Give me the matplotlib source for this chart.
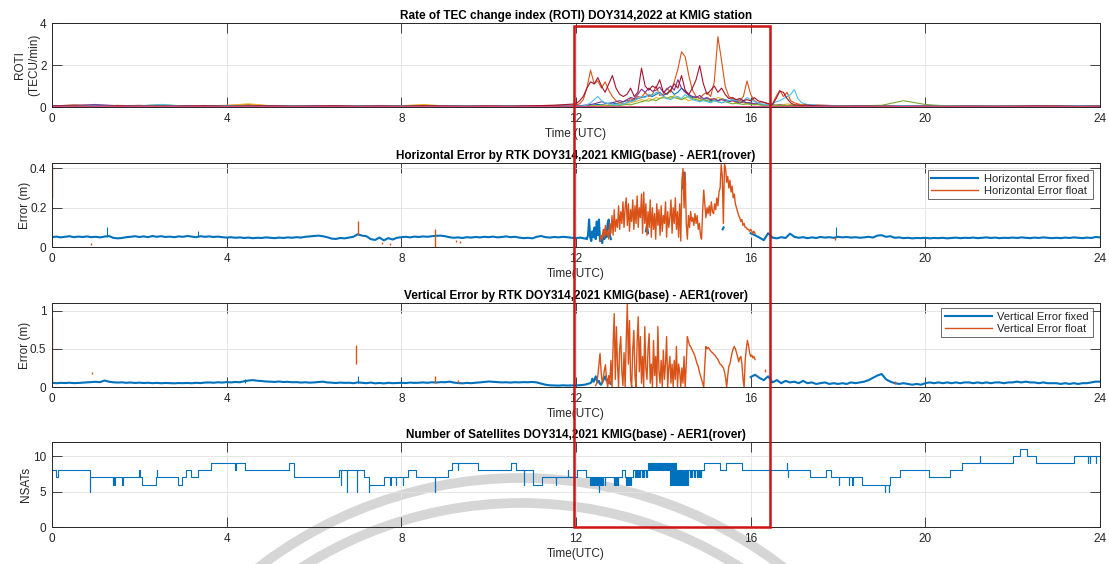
import numpy as np
import matplotlib
matplotlib.use("Agg")
import matplotlib.pyplot as plt
from matplotlib.patches import Rectangle, Arc
from matplotlib.transforms import Affine2D

plt.rcParams['font.family'] = ['Liberation Sans', 'DejaVu Sans']

nan = np.nan

# ---------------- ROTI (TECU/min), one line per satellite ----------------
roti_t_am = np.arange(0, 12, 0.5)               # 0 .. 11.5
roti_t_storm = 12 + np.arange(67) / 12.0        # 5-min epochs 12.0 .. 17.5
roti_t_pm = np.arange(18, 24.01, 0.5)           # 18 .. 24

roti_blue_am = [0.06, 0.08, 0.05, 0.07, 0.04, 0.06, 0.05, 0.07, 0.04, 0.06, 0.05, 0.03,
                0.05, 0.06, 0.04, 0.05, 0.07, 0.04, 0.06, 0.05, 0.04, 0.06, 0.05, 0.04]
roti_blue_storm = [0.04, 0.05, 0.05, 0.06, 0.08, 0.10, 0.12, 0.10, 0.15, 0.18, 0.20, 0.15,
                   0.20, 0.25, 0.30, 0.28, 0.35, 0.40, 0.45, 0.50, 0.55, 0.50, 0.60, 0.70,
                   0.55, 0.65, 0.80, 0.60, 0.70, 0.90, 0.75, 0.55, 0.45, 0.50, 0.40, 0.35,
                   0.40, 0.30, 0.35, 0.30, 0.40, 0.35, 0.30, 0.35, 0.25, 0.30, 0.25, 0.20,
                   0.20, 0.15, 0.12, 0.10, 0.10, 0.08, 0.08, 0.07, 0.06, 0.06, 0.05, 0.05,
                   0.05, 0.04, 0.05, 0.04, 0.05, 0.04, 0.04]
roti_blue_pm = [0.03, 0.04, 0.03, 0.05, 0.04, 0.03, 0.04, 0.05, 0.03, 0.04, 0.06, 0.05, 0.07]

roti_orange_am = [0.04, 0.10, 0.06, 0.05, 0.08, 0.04, 0.06, 0.05, 0.07, 0.12, 0.05, 0.04,
                  0.06, 0.05, 0.04, 0.06, 0.05, 0.08, 0.04, 0.06, 0.05, 0.04, 0.06, 0.08]
roti_orange_storm = [0.10, 0.15, 0.35, 0.90, 1.75, 1.10, 1.25, 0.90, 1.20, 0.80, 0.50, 0.30,
                     0.20, 0.15, 0.20, 0.40, 0.30, 0.50, 0.45, 0.70, 0.50, 0.60, 1.00, 0.55,
                     0.60, 0.90, 0.70, 1.20, 1.80, 2.63, 2.40, 1.50, 0.80, 0.50, 0.40, 0.60,
                     0.70, 0.50, 1.20, 3.35, 2.20, 1.00, 0.50, 0.40, 0.35, 0.30, 0.50, 1.24,
                     0.60, 0.30, 0.20, 0.25, 0.20, 0.15, 0.15, 0.50, 0.80, 0.50, 0.70, 0.30,
                     0.20, 0.15, 0.10, 0.10, 0.12, 0.08, 0.10]
roti_orange_pm = [0.06, 0.05, 0.04, 0.05, 0.03, 0.04, 0.05, 0.03, 0.04, 0.03, 0.04, 0.03, 0.04]

roti_yellow_am = [0.03, 0.05, 0.04, 0.08, 0.05, 0.12, 0.04, 0.06, 0.08, 0.15, 0.06, 0.05,
                  0.04, 0.06, 0.05, 0.07, 0.06, 0.12, 0.05, 0.04, 0.06, 0.05, 0.04, 0.03]
roti_yellow_storm = [0.02, 0.03, 0.03, 0.04, 0.05, 0.06, 0.05, 0.08, 0.10, 0.08, 0.10, 0.12,
                     0.15, 0.12, 0.18, 0.20, 0.25, 0.30, 0.35, 0.30, 0.40, 0.35, 0.45, 0.40,
                     0.50, 0.45, 0.40, 0.55, 0.45, 0.35, 0.40, 0.30, 0.35, 0.40, 0.30, 0.35,
                     0.30, 0.40, 0.35, 0.45, 0.40, 0.30, 0.25, 0.30, 0.20, 0.25, 0.20, 0.15,
                     0.18, 0.15, 0.12, 0.10, 0.12, 0.10, 0.08, 0.10, 0.12, 0.10, 0.15, 0.12,
                     0.10, 0.08, 0.12, 0.10, 0.08, 0.06, 0.07]
roti_yellow_pm = [0.05, 0.04, 0.06, 0.04, 0.03, 0.04, 0.03, 0.04, 0.05, 0.03, 0.04, 0.03, 0.04]

roti_purple_am = [0.05, 0.07, 0.12, 0.06, 0.05, 0.08, 0.05, 0.04, 0.06, 0.05, 0.04, 0.05,
                  0.06, 0.04, 0.05, 0.06, 0.05, 0.04, 0.06, 0.05, 0.04, 0.05, 0.03, 0.04]
roti_purple_storm = [0.05, 0.06, 0.08, 0.10, 0.12, 0.15, 0.20, 0.25, 0.20, 0.15, 0.20, 0.25,
                     0.30, 0.25, 0.35, 0.45, 0.40, 0.60, 0.85, 0.70, 0.90, 0.75, 0.80, 0.95,
                     0.70, 0.85, 1.00, 0.80, 1.30, 0.90, 0.70, 0.60, 0.50, 0.45, 0.55, 0.40,
                     0.45, 0.35, 0.40, 0.30, 0.35, 0.30, 0.25, 0.30, 0.25, 0.20, 0.25, 0.20,
                     0.18, 0.15, 0.15, 0.12, 0.12, 0.10, 0.10, 0.08, 0.10, 0.08, 0.07, 0.08,
                     0.06, 0.07, 0.05, 0.06, 0.05, 0.05, 0.05]
roti_purple_pm = [0.05, 0.04, 0.05, 0.04, 0.06, 0.04, 0.05, 0.04, 0.03, 0.04, 0.05, 0.04, 0.06]

roti_green_am = [0.04, 0.05, 0.06, 0.04, 0.05, 0.06, 0.04, 0.05, 0.03, 0.05, 0.04, 0.06,
                 0.04, 0.05, 0.03, 0.04, 0.05, 0.04, 0.06, 0.04, 0.03, 0.05, 0.04, 0.03]
roti_green_storm = [0.02, 0.02, 0.03, 0.03, 0.04, 0.05, 0.04, 0.06, 0.05, 0.07, 0.06, 0.08,
                    0.07, 0.10, 0.12, 0.10, 0.15, 0.20, 0.25, 0.30, 0.28, 0.35, 0.30, 0.40,
                    0.45, 0.40, 0.50, 0.45, 0.40, 0.35, 0.45, 0.50, 0.40, 0.35, 0.30, 0.35,
                    0.30, 0.25, 0.30, 0.25, 0.20, 0.25, 0.20, 0.15, 0.18, 0.15, 0.12, 0.15,
                    0.12, 0.10, 0.12, 0.10, 0.08, 0.10, 0.08, 0.07, 0.08, 0.06, 0.07, 0.06,
                    0.05, 0.06, 0.05, 0.04, 0.05, 0.04, 0.05]
roti_green_pm = [0.04, 0.06, 0.08, 0.30, 0.12, 0.05, 0.04, 0.03, 0.04, 0.03, 0.04, 0.03, 0.04]

roti_cyan_am = [0.05, 0.04, 0.08, 0.05, 0.06, 0.12, 0.05, 0.04, 0.06, 0.05, 0.04, 0.06,
                0.05, 0.04, 0.06, 0.04, 0.05, 0.04, 0.05, 0.06, 0.04, 0.05, 0.03, 0.04]
roti_cyan_storm = [0.03, 0.04, 0.05, 0.10, 0.20, 0.35, 0.50, 0.30, 0.20, 0.15, 0.12, 0.10,
                   0.12, 0.15, 0.20, 0.25, 0.30, 0.40, 0.50, 0.45, 0.60, 0.55, 0.70, 0.65,
                   0.50, 0.40, 0.35, 0.45, 0.50, 0.40, 0.60, 0.45, 0.35, 0.30, 0.25, 0.30,
                   0.25, 0.20, 0.30, 0.25, 0.20, 0.25, 0.30, 0.35, 0.30, 0.40, 0.30, 0.45,
                   0.35, 0.25, 0.20, 0.15, 0.12, 0.10, 0.15, 0.25, 0.30, 0.40, 0.50, 0.60,
                   0.83, 0.40, 0.20, 0.15, 0.10, 0.12, 0.08]
roti_cyan_pm = [0.06, 0.05, 0.04, 0.06, 0.05, 0.04, 0.05, 0.04, 0.05, 0.04, 0.03, 0.05, 0.04]

roti_red_am = [0.06, 0.05, 0.04, 0.06, 0.05, 0.04, 0.05, 0.06, 0.04, 0.05, 0.06, 0.04,
               0.05, 0.06, 0.04, 0.05, 0.04, 0.06, 0.05, 0.04, 0.05, 0.04, 0.06, 0.08]
roti_red_storm = [0.15, 0.30, 0.50, 0.90, 1.20, 1.10, 1.40, 1.00, 0.70, 1.10, 1.50, 0.90,
                  0.60, 0.50, 0.60, 0.90, 0.50, 0.70, 1.85, 1.00, 0.80, 1.00, 0.90, 1.30,
                  0.70, 0.60, 0.80, 1.10, 0.90, 1.50, 0.80, 0.60, 0.90, 1.30, 1.97, 1.10,
                  0.60, 0.80, 1.00, 0.70, 0.90, 0.60, 0.40, 0.45, 0.35, 0.40, 0.30, 0.35,
                  0.30, 0.45, 0.30, 0.25, 0.20, 0.15, 0.12, 0.40, 0.75, 0.70, 0.40, 0.20,
                  0.10, 0.10, 0.08, 0.10, 0.08, 0.07, 0.06]
roti_red_pm = [0.04, 0.05, 0.04, 0.03, 0.04, 0.03, 0.04, 0.03, 0.04, 0.05, 0.04, 0.03, 0.04]

roti_pink_t = np.arange(0, 24.01, 2)
roti_pink_v = [0.01, 0.015, 0.01, 0.012, 0.01, 0.015, 0.012, 0.01, 0.015, 0.01, 0.012, 0.01, 0.01]

# ---------------- Horizontal RTK error (m) ----------------
hfix_t_am = np.arange(0, 12.25, 0.1)             # 0 .. 12.2
hfix_v_am = [0.050, 0.053, 0.049, 0.052, 0.055, 0.050, 0.053, 0.051, 0.054, 0.050,
             0.052, 0.049, 0.053, 0.056, 0.047, 0.044, 0.046, 0.050, 0.052, 0.055,
             0.051, 0.054, 0.050, 0.056, 0.052, 0.055, 0.051, 0.053, 0.050, 0.054,
             0.052, 0.056, 0.053, 0.050, 0.055, 0.052, 0.054, 0.051, 0.053, 0.050,
             0.048, 0.050, 0.047, 0.049, 0.046, 0.048, 0.045, 0.047, 0.046, 0.049,
             0.047, 0.045, 0.048, 0.046, 0.049, 0.047, 0.050, 0.048, 0.052, 0.054,
             0.056, 0.058, 0.055, 0.050, 0.043, 0.041, 0.046, 0.044, 0.048, 0.052,
             0.065, 0.058, 0.055, 0.040, 0.036, 0.048, 0.034, 0.045, 0.038, 0.047,
             0.050, 0.052, 0.049, 0.053, 0.051, 0.054, 0.052, 0.055, 0.057, 0.058,
             0.055, 0.050, 0.047, 0.049, 0.046, 0.050, 0.048, 0.051, 0.049, 0.052,
             0.050, 0.053, 0.049, 0.051, 0.054, 0.050, 0.052, 0.048, 0.045, 0.047,
             0.044, 0.052, 0.056, 0.050, 0.048, 0.051, 0.049, 0.052, 0.050, 0.047,
             0.045, 0.048, 0.043]
hfix_t_onset = 12.225 + 0.025 * np.arange(24)   # 12.225 .. 12.8
hfix_v_onset = [0.045, 0.04, 0.06, 0.14, 0.05, 0.03, 0.08, 0.05, 0.10, 0.04, 0.13, 0.06,
                0.14, 0.03, 0.05, 0.02, 0.07, 0.04, 0.09, 0.05, 0.12, 0.14, 0.06, 0.04]
hfix_t_mid = [13.60, 13.625, 13.65, nan, 14.45, 14.475, 14.50, nan, 15.36, 15.38]
hfix_v_mid = [0.08, 0.11, 0.07, nan, 0.30, 0.38, 0.32, nan, 0.09, 0.10]
hfix_t_pm = np.arange(16.0, 24.05, 0.1)          # 16 .. 24
hfix_v_pm = [0.070, 0.060, 0.048, 0.035, 0.070, 0.048, 0.044, 0.050, 0.046, 0.068,
             0.052, 0.047, 0.050, 0.045, 0.049, 0.046, 0.051, 0.048, 0.050, 0.047,
             0.052, 0.049, 0.051, 0.048, 0.050, 0.047, 0.049, 0.052, 0.048, 0.058,
             0.060, 0.052, 0.055, 0.047, 0.049, 0.045, 0.047, 0.044, 0.046, 0.045,
             0.047, 0.044, 0.046, 0.045, 0.047, 0.044, 0.046, 0.048, 0.045, 0.047,
             0.046, 0.048, 0.045, 0.047, 0.049, 0.046, 0.048, 0.045, 0.047, 0.046,
             0.048, 0.046, 0.049, 0.047, 0.045, 0.048, 0.046, 0.049, 0.047, 0.045,
             0.047, 0.045, 0.048, 0.046, 0.049, 0.047, 0.045, 0.048, 0.046, 0.051,
             0.049]
hfix_spike_t = [1.26, 3.35, 17.95]
hfix_spike_v = [0.10, 0.08, 0.10]

hflt_t_storm = 12.55 + 0.025 * np.arange(143)   # 12.55 .. 16.1
hflt_v_storm = [0.03, 0.06, 0.04, 0.09, 0.05, 0.11, 0.06, 0.08,
                0.04, 0.12, 0.07, 0.16, 0.06, 0.19, 0.08, 0.14,
                0.10, 0.21, 0.09, 0.18, 0.12, 0.23, 0.10, 0.20,
                0.25, 0.11, 0.22, 0.08, 0.19, 0.13, 0.24, 0.09,
                0.21, 0.12, 0.26, 0.10, 0.20, 0.15, 0.27, 0.07,
                0.28, 0.12, 0.22, 0.06, 0.18, 0.10, 0.24, 0.05,
                0.20, 0.09, 0.17, 0.04, 0.22, 0.11, 0.19, 0.06,
                0.21, 0.08, 0.16, 0.12, 0.23, 0.05, 0.18, 0.10,
                0.15, 0.24, 0.07, 0.20, 0.12, 0.25, 0.09, 0.18,
                0.05, 0.22, 0.03, 0.34, 0.40, 0.20, 0.38, 0.12,
                0.04, 0.16, 0.10, 0.18, 0.13, 0.15, 0.11, 0.17,
                0.12, 0.16, 0.09, 0.12, 0.06, 0.04, 0.18, 0.29,
                0.22, 0.15, 0.20, 0.17, 0.21, 0.16, 0.23, 0.18,
                0.17, 0.22, 0.19, 0.25, 0.21, 0.28, 0.30, 0.42,
                0.36, 0.12, 0.42, 0.40, 0.33, 0.36, 0.30, 0.34,
                0.28, 0.31, 0.25, 0.27, 0.22, 0.20, 0.18, 0.16,
                0.15, 0.13, 0.14, 0.11, 0.12, 0.10, 0.10, 0.09,
                0.09, 0.08, 0.09, 0.08, 0.07, 0.08, 0.07]
hflt_blip_t = [0.0, 0.9, 7.0, 7.55, 7.75, 8.78, 9.25, 9.35, 17.93]
hflt_blip_lo = [0.25, 0.012, 0.06, 0.015, 0.01, 0.0, 0.025, 0.02, 0.035]
hflt_blip_hi = [0.42, 0.02, 0.13, 0.025, 0.02, 0.09, 0.035, 0.03, 0.05]

# ---------------- Vertical RTK error (m) ----------------
vfix_t_am = np.arange(0, 12.35, 0.1)             # 0 .. 12.3
vfix_v_am = [0.055, 0.050, 0.054, 0.052, 0.056, 0.051, 0.053, 0.057, 0.060, 0.065,
             0.068, 0.063, 0.085, 0.070, 0.062, 0.058, 0.061, 0.055, 0.059, 0.053,
             0.057, 0.052, 0.056, 0.050, 0.054, 0.049, 0.053, 0.051, 0.048, 0.052,
             0.050, 0.053, 0.049, 0.055, 0.051, 0.058, 0.060, 0.056, 0.062, 0.058,
             0.064, 0.060, 0.066, 0.062, 0.075, 0.085, 0.090, 0.082, 0.078, 0.072,
             0.070, 0.066, 0.072, 0.065, 0.068, 0.062, 0.064, 0.058, 0.062, 0.057,
             0.060, 0.065, 0.070, 0.060, 0.057, 0.052, 0.058, 0.054, 0.056, 0.050,
             0.060, 0.055, 0.050, 0.058, 0.048, 0.053, 0.047, 0.055, 0.050, 0.052,
             0.055, 0.052, 0.058, 0.054, 0.056, 0.060, 0.055, 0.062, 0.058, 0.064,
             0.062, 0.070, 0.058, 0.052, 0.048, 0.054, 0.050, 0.056, 0.060, 0.066,
             0.072, 0.068, 0.065, 0.060, 0.062, 0.058, 0.063, 0.060, 0.064, 0.062,
             0.066, 0.060, 0.045, 0.030, 0.022, 0.020, 0.018, 0.022, 0.019, 0.021,
             0.020, 0.024, 0.030, 0.045]
vfix_t_onset = 12.325 + 0.025 * np.arange(20)   # 12.325 .. 12.8
vfix_v_onset = [0.05, 0.06, 0.11, 0.07, 0.09, 0.14, 0.10, 0.06, 0.08, 0.04,
                0.03, 0.06, 0.09, 0.12, 0.14, 0.08, 0.10, 0.05, 0.07, 0.04]
vfix_t_pm = np.arange(16.0, 24.05, 0.1)          # 16 .. 24
vfix_v_pm = [0.13, 0.16, 0.12, 0.09, 0.14, 0.06, 0.09, 0.05, 0.08, 0.06,
             0.07, 0.05, 0.08, 0.05, 0.06, 0.04, 0.05, 0.06, 0.04, 0.05,
             0.04, 0.05, 0.04, 0.06, 0.05, 0.06, 0.07, 0.09, 0.12, 0.15,
             0.17, 0.10, 0.07, 0.05, 0.04, 0.05, 0.04, 0.03, 0.04, 0.03,
             0.05, 0.06, 0.05, 0.06, 0.05, 0.06, 0.05, 0.06, 0.05, 0.06,
             0.06, 0.05, 0.06, 0.05, 0.06, 0.05, 0.06, 0.06, 0.05, 0.06,
             0.06, 0.07, 0.06, 0.07, 0.06, 0.06, 0.05, 0.06, 0.05, 0.05,
             0.05, 0.04, 0.05, 0.04, 0.05, 0.04, 0.05, 0.05, 0.06, 0.07,
             0.07]
vfix_spike_t = [4.42, 7.0]
vfix_spike_v = [0.10, 0.15]

vflt_t_storm = 12.45 + 0.025 * np.arange(147)   # 12.45 .. 16.1
vflt_v_storm = [0.02, 0.05, 0.15, 0.30, 0.44, 0.20, 0.05, 0.12,
                0.22, 0.29, 0.10, 0.00, 0.15, 0.04, 0.35, 0.00,
                0.55, 0.96, 0.10, 0.79, 0.30, 0.00, 0.50, 0.66,
                0.20, 0.02, 0.45, 0.00, 0.60, 1.09, 0.30, 0.87,
                0.10, 0.00, 0.50, 0.74, 0.15, 0.00, 0.60, 0.92,
                0.20, 0.66, 0.05, 0.40, 0.00, 0.79, 0.25, 0.10,
                0.50, 0.70, 0.05, 0.30, 0.00, 0.61, 0.15, 0.40,
                0.00, 0.79, 0.20, 0.05, 0.35, 0.00, 0.48, 0.10,
                0.30, 0.66, 0.00, 0.25, 0.40, 0.05, 0.30, 0.00,
                0.35, 0.10, 0.53, 0.00, 0.30, 0.20, 0.00, 0.25,
                0.05, 0.40, 0.00, 0.30, 0.66, 0.60, 0.55, 0.53,
                0.50, 0.47, 0.44, 0.40, 0.35, 0.30, 0.27, 0.20,
                0.15, 0.10, 0.05, 0.00, 0.30, 0.53, 0.50, 0.52,
                0.50, 0.48, 0.46, 0.45, 0.43, 0.42, 0.40, 0.38,
                0.36, 0.33, 0.30, 0.29, 0.27, 0.25, 0.20, 0.12,
                0.00, 0.15, 0.27, 0.30, 0.38, 0.45, 0.50, 0.53,
                0.50, 0.45, 0.40, 0.33, 0.38, 0.40, 0.30, 0.10,
                0.00, 0.35, 0.50, 0.61, 0.55, 0.45, 0.40, 0.42,
                0.38, 0.40, 0.36]
vflt_blip_t = [0.0, 0.92, 6.97, 8.78, 9.3, 16.33, 19.3]
vflt_blip_lo = [0.05, 0.17, 0.30, 0.05, 0.05, 0.19, 0.04]
vflt_blip_hi = [0.90, 0.19, 0.55, 0.14, 0.09, 0.23, 0.08]

# ---------------- Number of satellites ----------------
nsat_step_t = [0.0, 0.09, 0.13, 0.87, 2.06, 2.39, 2.88, 2.98, 3.06, 3.18, 3.34, 3.64,
               4.43, 5.42, 5.55, 6.57, 7.14, 7.26, 7.61, 8.16, 8.33, 9.07, 9.17, 9.76,
               10.5, 10.62, 11.02, 11.22, 12.02, 12.24, 13.05, 13.12, 13.31, 13.66, 14.3,
               14.57, 14.93, 15.3, 15.43, 15.8, 17.35, 17.72, 17.85, 18.56, 19.18, 19.41,
               20.09, 20.57, 20.84, 22.0, 22.17, 22.33, 22.54, 23.41, 24.0]
nsat_step_v = [8, 7, 8, 7, 6, 7, 6, 7, 8, 7, 8, 9,
               8, 9, 7, 8, 7, 6, 7, 8, 7, 8, 9, 8,
               9, 8, 6, 7, 8, 7, 8, 7, 8, 9, 6,
               8, 9, 8, 9, 8, 7, 8, 7, 6, 7, 8,
               7, 8, 9, 10, 11, 10, 9, 10, 10]
# short drops / jumps on top of the steps
nsat_spike_t = [0.87, 1.39, 1.43, 1.61, 2.0, 2.41, 4.2, 6.61, 6.75, 6.98, 7.26, 7.75,
                7.87, 8.03, 8.76, 9.3, 10.8, 11.54, 11.82,
                12.33, 12.36, 12.40, 12.43, 12.46, 12.49, 12.53, 12.56, 12.59, 12.62, 12.66,
                12.87, 12.90, 12.93, 12.96, 13.14, 13.17, 13.20, 13.23, 13.26,
                13.35, 13.38, 13.41, 13.44, 13.47, 13.50, 13.53, 13.56, 13.60, 13.63,
                13.68, 13.70, 13.72, 13.74, 13.76, 13.78, 13.80, 13.82, 13.84, 13.86,
                13.88, 13.90, 13.92, 13.94, 13.96, 13.98, 14.00, 14.02, 14.04, 14.06,
                14.08, 14.10, 14.12, 14.14,
                14.16, 14.18, 14.20, 14.22, 14.24, 14.26, 14.28,
                14.31, 14.33, 14.35, 14.37, 14.39, 14.41, 14.43, 14.45, 14.47, 14.49,
                14.51, 14.53, 14.55,
                14.60, 14.63, 14.66, 14.70, 14.73, 14.76, 14.80, 14.83, 14.86,
                16.83, 16.86, 18.02, 18.25, 18.33, 19.08, 19.16, 21.25, 23.73, 23.77, 23.91]
nsat_spike_v = [5, 6, 6, 6, 8, 8, 8, 6, 5, 5, 5, 6,
                6, 6, 5, 8, 6, 6, 8,
                6, 6, 6, 6, 6, 6, 5, 6, 6, 6, 6,
                6, 6, 6, 6, 6, 6, 6, 6, 6,
                7, 7, 7, 7, 7, 7, 7, 7, 7, 7,
                8, 8, 8, 8, 8, 8, 8, 8, 8, 8,
                8, 8, 8, 8, 8, 8, 8, 8, 8, 8,
                8, 8, 8, 8,
                6, 6, 6, 6, 6, 6, 6,
                8, 8, 8, 8, 8, 8, 8, 8, 8, 8,
                8, 8, 8,
                7, 7, 7, 7, 7, 7, 7, 7, 7,
                9, 7, 6, 6, 6, 5, 5, 10, 9, 9, 9]

# storm window marked on all panels (hours UTC)
box_start, box_end = 11.95, 16.45

C_FIX = '#0072BD'
C_FLT = '#D95319'
TXT = '#262626'
FS = 8.5


def with_spikes(step_t, step_v, spike_t, spike_v, width=0.006):
    step_t = np.asarray(step_t, float)
    step_v = np.asarray(step_v, float)
    ts, vs = list(step_t), list(step_v)
    for t, v in zip(spike_t, spike_v):
        base = step_v[np.searchsorted(step_t, t, side='right') - 1]
        ts += [t, t + width]
        vs += [v, base]
    order = np.argsort(ts, kind='stable')
    return np.array(ts)[order], np.array(vs)[order]


def style_axis(ax, ylim, yticks, yticklabels):
    ax.set_facecolor('none')
    ax.set_xlim(0, 24)
    ax.set_xticks([0, 4, 8, 12, 16, 20, 24])
    ax.set_ylim(*ylim)
    ax.set_yticks(yticks)
    ax.set_yticklabels(yticklabels)
    ax.tick_params(direction='in', length=7, width=0.6, top=True, right=True,
                   labelsize=FS, colors=TXT, pad=4)
    ax.grid(True, color='#e2e2e2', lw=0.6)
    ax.set_axisbelow(True)
    for s in ax.spines.values():
        s.set_color(TXT)
        s.set_linewidth(0.7)


W, H = 1109, 564
fig = plt.figure(figsize=(W / 100, H / 100), dpi=100)
left, right = 52, 1100
rows = [(23, 107), (163, 247), (303, 387), (442, 527)]
axes = [fig.add_axes([left / W, 1 - b / H, (right - left) / W, (b - t) / H]) for t, b in rows]
ax1, ax2, ax3, ax4 = axes

# --- ROTI ---
roti_t = np.concatenate([roti_t_am, roti_t_storm, roti_t_pm])
roti_lines = [
    (roti_blue_am, roti_blue_storm, roti_blue_pm, '#0072BD'),
    (roti_orange_am, roti_orange_storm, roti_orange_pm, '#D95319'),
    (roti_yellow_am, roti_yellow_storm, roti_yellow_pm, '#EDB120'),
    (roti_purple_am, roti_purple_storm, roti_purple_pm, '#7E2F8E'),
    (roti_green_am, roti_green_storm, roti_green_pm, '#77AC30'),
    (roti_cyan_am, roti_cyan_storm, roti_cyan_pm, '#4DBEEE'),
    (roti_red_am, roti_red_storm, roti_red_pm, '#A2142F'),
]
for am, st, pm, c in roti_lines:
    ax1.plot(roti_t, np.concatenate([am, st, pm]), color=c, lw=0.8)
ax1.plot(roti_pink_t, roti_pink_v, color='#E0457B', lw=1.0)
style_axis(ax1, (0, 4), [0, 2, 4], ['0', '2', '4'])
ax1.set_title('Rate of TEC change index (ROTI) DOY314,2022 at KMIG station',
              fontsize=FS, fontweight='bold', pad=3)
ax1.set_ylabel('ROTI\n(TECU/min)', fontsize=FS, color=TXT, labelpad=-0.5, linespacing=1.3)
ax1.set_xlabel('Time (UTC)', fontsize=FS, color=TXT, labelpad=2.5)

# --- horizontal error ---
hfix_t = np.concatenate([hfix_t_am, hfix_t_onset, [nan], hfix_t_mid, [nan], hfix_t_pm])
hfix_v = np.concatenate([hfix_v_am, hfix_v_onset, [nan], hfix_v_mid, [nan], hfix_v_pm])
ax2.plot(hfix_t, hfix_v, color=C_FIX, lw=1.5, label='Horizontal Error fixed')
ax2.vlines(hfix_spike_t, 0.05, hfix_spike_v, color=C_FIX, lw=0.8)
ax2.plot(hflt_t_storm, hflt_v_storm, color=C_FLT, lw=1.0, label='Horizontal Error float')
ax2.vlines(hflt_blip_t, hflt_blip_lo, hflt_blip_hi, color=C_FLT, lw=1.0)
style_axis(ax2, (0, 0.428), [0, 0.2, 0.4], ['0', '0.2', '0.4'])
ax2.set_title('Horizontal Error by RTK DOY314,2021 KMIG(base) - AER1(rover)',
              fontsize=FS, fontweight='bold', pad=3)
ax2.set_ylabel('Error (m)', fontsize=FS, color=TXT, labelpad=-1)
ax2.set_xlabel('Time(UTC)', fontsize=FS, color=TXT, labelpad=2.5)

# --- vertical error ---
vfix_t = np.concatenate([vfix_t_am, vfix_t_onset, [nan], vfix_t_pm])
vfix_v = np.concatenate([vfix_v_am, vfix_v_onset, [nan], vfix_v_pm])
ax3.plot(vfix_t, vfix_v, color=C_FIX, lw=1.5, label='Vertical Error fixed')
ax3.vlines(vfix_spike_t, 0.05, vfix_spike_v, color=C_FIX, lw=0.8)
ax3.plot(vflt_t_storm, vflt_v_storm, color=C_FLT, lw=1.0, label='Vertical Error float')
ax3.vlines(vflt_blip_t, vflt_blip_lo, vflt_blip_hi, color=C_FLT, lw=1.0)
style_axis(ax3, (0, 1.1), [0, 0.5, 1], ['0', '0.5', '1'])
ax3.set_title('Vertical Error by RTK DOY314,2021 KMIG(base) - AER1(rover)',
              fontsize=FS, fontweight='bold', pad=3)
ax3.set_ylabel('Error (m)', fontsize=FS, color=TXT, labelpad=-1)
ax3.set_xlabel('Time(UTC)', fontsize=FS, color=TXT, labelpad=2.5)

for ax, anchor in ((ax2, (0.9933, 0.917)), (ax3, (0.9933, 0.94))):
    leg = ax.legend(loc='upper right', bbox_to_anchor=anchor, borderaxespad=0,
                    fontsize=8, frameon=True, fancybox=False, handlelength=4.2,
                    handletextpad=0.5, labelspacing=0.15, borderpad=0.35)
    leg.get_frame().set_edgecolor(TXT)
    leg.get_frame().set_linewidth(0.6)
    for txt in leg.get_texts():
        txt.set_color(TXT)

# --- satellites ---
ns_t, ns_v = with_spikes(nsat_step_t, nsat_step_v, nsat_spike_t, nsat_spike_v)
ax4.plot(ns_t, ns_v, drawstyle='steps-post', color=C_FIX, lw=0.8)
style_axis(ax4, (0, 12), [0, 5, 10], ['0', '5', '10'])
ax4.set_title('Number of Satellites DOY314,2021 KMIG(base) - AER1(rover)',
              fontsize=FS, fontweight='bold', pad=3)
ax4.set_ylabel('NSATs', fontsize=FS, color=TXT, labelpad=1)
ax4.set_xlabel('Time(UTC)', fontsize=FS, color=TXT, labelpad=2.5)

# red frame around the storm window, spanning all four panels
to_fig = fig.transFigure.inverted()
x0, y_bot = to_fig.transform(ax4.transData.transform((box_start, 0)))
x1, _ = to_fig.transform(ax4.transData.transform((box_end, 0)))
_, y_top = to_fig.transform(ax1.transData.transform((0, 3.88)))
fig.patches.append(Rectangle((x0, y_bot), x1 - x0, y_top - y_bot, transform=fig.transFigure,
                             fill=False, edgecolor='#CC1414', lw=1.8, zorder=5))

# faint logo arcs behind the lower panel
px = Affine2D().scale(1 / W, 1 / H) + fig.transFigure
for r in (430, 405):
    fig.patches.append(Arc((521, H - 908), 2 * r, 2 * r, theta1=45, theta2=135,
                           transform=px, color='#d6d6d6', lw=7, zorder=-1))

fig.savefig('out.png', dpi=100)
